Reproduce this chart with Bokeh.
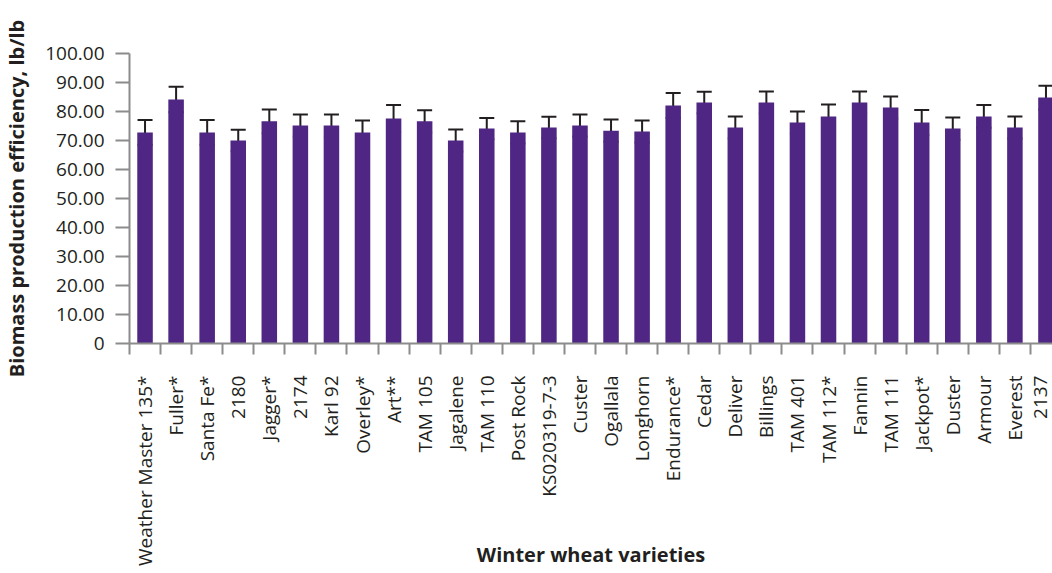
import math
from bokeh.plotting import figure
from bokeh.models import ColumnDataSource, Range1d, FixedTicker, Whisker, TeeHead
from bokeh.embed import file_html
from bokeh.resources import INLINE

varieties = ["Weather Master 135*", "Fuller*", "Santa Fe*", "2180", "Jagger*", "2174",
             "Karl 92", "Overley*", "Art**", "TAM 105", "Jagalene", "TAM 110", "Post Rock",
             "KS020319-7-3", "Custer", "Ogallala", "Longhorn", "Endurance*", "Cedar", "Deliver",
             "Billings", "TAM 401", "TAM 112*", "Fannin", "TAM 111", "Jackpot*", "Duster",
             "Armour", "Everest", "2137"]
efficiency = [72.8, 84.1, 72.8, 70.0, 76.6, 75.2, 75.2, 72.8, 77.6, 76.6,
              70.0, 74.1, 72.8, 74.5, 75.2, 73.4, 73.1, 82.1, 83.1, 74.5,
              83.1, 76.2, 78.3, 83.1, 81.4, 76.2, 74.1, 78.3, 74.5, 84.8]
error = [4.3, 4.4, 4.3, 3.7, 4.1, 3.8, 3.8, 4.1, 4.6, 3.8,
         3.8, 3.7, 3.8, 3.7, 3.8, 3.8, 3.8, 4.3, 3.7, 3.8,
         3.8, 3.8, 4.1, 3.8, 3.8, 4.3, 3.8, 3.9, 3.8, 4.1]
y_ticks = [0, 10, 20, 30, 40, 50, 60, 70, 80, 90, 100]
y_tick_labels = ["0", "10.00", "20.00", "30.00", "40.00", "50.00", "60.00",
                 "70.00", "80.00", "90.00", "100.00"]
x_title = "Winter wheat varieties"
y_title = "Biomass production efficiency, lb/lb"

FONT = "Open Sans"
BAR = "#4F2683"
AXIS = "#8C8C8C"
TEXT = "#231F20"

xs = [i + 0.5 for i in range(len(varieties))]
src = ColumnDataSource(dict(
    x=xs, top=efficiency,
    upper=[v + e for v, e in zip(efficiency, error)],
    lower=[v - e for v, e in zip(efficiency, error)],
))

p = figure(width=1052, height=573, output_backend="svg", toolbar_location=None,
           x_range=Range1d(0, 29.71), y_range=Range1d(0, 100),
           min_border_left=128, min_border_top=53, min_border_bottom=230, min_border_right=0)
p.outline_line_color = None
p.xgrid.grid_line_color = None
p.ygrid.grid_line_color = None
p.background_fill_color = "white"
p.border_fill_color = "white"

p.vbar(x="x", top="top", width=0.5, bottom=0, source=src, fill_color=BAR, line_color=None)

w = Whisker(source=src, base="x", upper="upper", lower="lower",
            line_color=TEXT, line_width=2,
            upper_head=TeeHead(size=15, line_color=TEXT, line_width=2),
            lower_head=TeeHead(size=15, line_color=TEXT, line_width=2))
p.add_layout(w)

# x axis
xa = p.xaxis[0]
xa.ticker = FixedTicker(ticks=xs, minor_ticks=list(range(len(varieties) + 1)))
xa.major_label_overrides = {x: n for x, n in zip(xs, varieties)}
xa.major_label_orientation = math.pi / 2
xa.major_tick_out = 0
xa.major_tick_in = 0
xa.minor_tick_out = 11
xa.minor_tick_in = 0
xa.minor_tick_line_color = AXIS
xa.minor_tick_line_width = 2
xa.axis_line_color = AXIS
xa.axis_line_width = 2
xa.major_label_standoff = 21
xa.major_label_text_font = FONT
xa.major_label_text_font_size = "19px"
xa.major_label_text_color = TEXT
xa.axis_label = x_title
xa.axis_label_standoff = -28
xa.axis_label_text_font = FONT
xa.axis_label_text_font_style = "bold"
xa.axis_label_text_font_size = "20px"
xa.axis_label_text_color = TEXT

# y axis
ya = p.yaxis[0]
ya.ticker = FixedTicker(ticks=y_ticks)
ya.major_label_overrides = {t: l for t, l in zip(y_ticks, y_tick_labels)}
ya.major_tick_out = 14
ya.major_tick_in = 0
ya.minor_tick_line_color = None
ya.major_tick_line_color = AXIS
ya.major_tick_line_width = 2
ya.axis_line_color = AXIS
ya.axis_line_width = 2
ya.major_label_standoff = 11
ya.major_label_text_font = FONT
ya.major_label_text_font_size = "19px"
ya.major_label_text_color = TEXT
ya.axis_label = y_title
ya.axis_label_standoff = 12
ya.axis_label_text_font = FONT
ya.axis_label_text_font_style = "bold"
ya.axis_label_text_font_size = "20px"
ya.axis_label_text_color = TEXT

open("out.html", "w").write(file_html(p, INLINE))
